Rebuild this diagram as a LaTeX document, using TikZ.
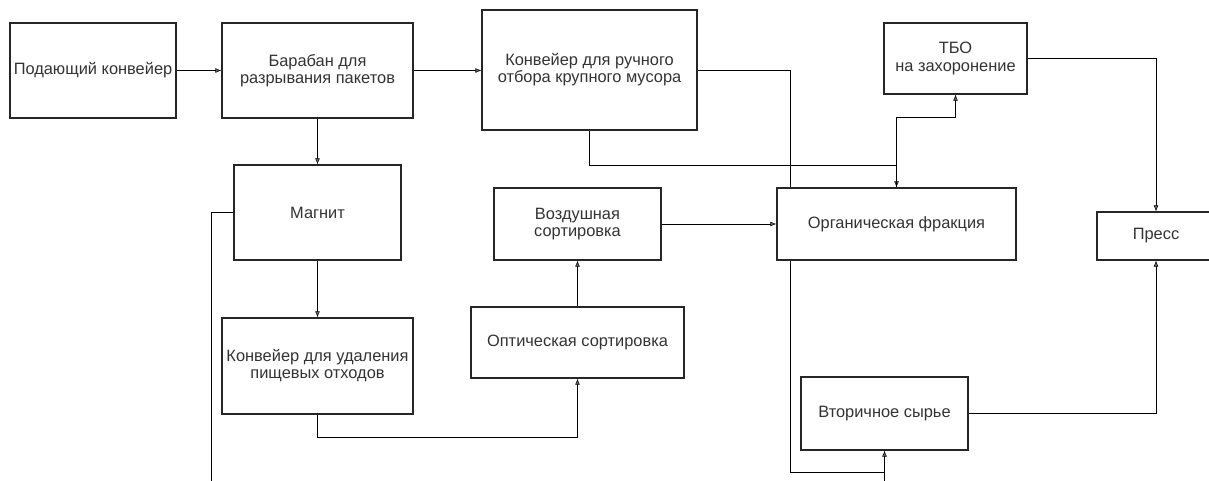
\documentclass[tikz,border=0pt]{standalone}
\usepackage{fontspec}
\setmainfont{Liberation Sans}
\usepackage{tikz}
\usetikzlibrary{arrows.meta, backgrounds}

\begin{document}
\begin{tikzpicture}[x=0.75pt, y=-0.75pt, >={Latex[length=4.5pt,width=3.5pt]},
    blk/.style={draw=black!85, fill=white, line width=0.85pt, inner sep=0pt,
        align=center, text=black!80, font=\fontsize{12.3}{12.8}\selectfont},
    wh/.style 2 args={minimum width=#1*0.75pt, minimum height=#2*0.75pt},
    flow/.style={draw=black!60, line width=1.05pt}]
\clip (0,0) rectangle (1209,481);
% blocks, centres in px
\node[blk, wh={166}{95}]  (feed)      at (93,70.5)    {Подающий конвейер};
\node[blk, wh={191}{95}]  (drum)      at (317.5,70.5) {Барабан для\\разрывания пакетов};
\node[blk, wh={215}{120}] (manual)    at (589.5,70)   {Конвейер для ручного\\отбора крупного мусора};
\node[blk, wh={143}{71}]  (tbo)       at (955.5,58.5) {ТБО\\на захоронение};
\node[blk, wh={167}{95}]  (magnet)    at (317.5,212.5) {Магнит};
\node[blk, wh={167}{72}]  (air)       at (577.5,224)  {Воздушная\\сортировка};
\node[blk, wh={239}{72}]  (organic)   at (896.5,224)  {Органическая фракция};
\node[blk, wh={118}{48}]  (press)     at (1156,236)   {Пресс};
\node[blk, wh={191}{96}]  (foodconv)  at (317.5,366)  {Конвейер для удаления\\пищевых отходов};
\node[blk, wh={213}{71}]  (optic)     at (577.5,342.5) {Оптическая сортировка};
\node[blk, wh={167}{73}]  (secondary) at (884.5,413.5) {Вторичное сырье};
% lines running off the bottom edge
\coordinate (outM) at (211,484);
\coordinate (inS)  at (884.5,484);
\coordinate (turnR) at (790,472);

\begin{scope}[on background layer, flow]
\draw[->] (feed.east) -- (drum.west);
\draw[->] (drum.east) -- (drum.east -| manual.west);
\draw[->] (drum.south) -- (magnet.north);
\draw[->] (magnet.south) -- (foodconv.north);
\draw[->] (foodconv.south) -- ++(0,23) -| (optic.south);
\draw[->] (optic.north) -- (air.south);
\draw[->] (air.east) -- (organic.west);
\draw[->] (manual.south) -- ++(0,35) -| (organic.north);
\draw[->] (organic.north) -- ++(0,-70) -| (tbo.south);
\draw (manual.east) -| (turnR) -- (turnR -| secondary.south);
\draw[->] (inS) -- (secondary.south);
\draw[->] (tbo.east) -| (press.north);
\draw[->] (secondary.east) -| (press.south);
\draw (magnet.west) -| (outM);
\end{scope}
\end{tikzpicture}
\end{document}
